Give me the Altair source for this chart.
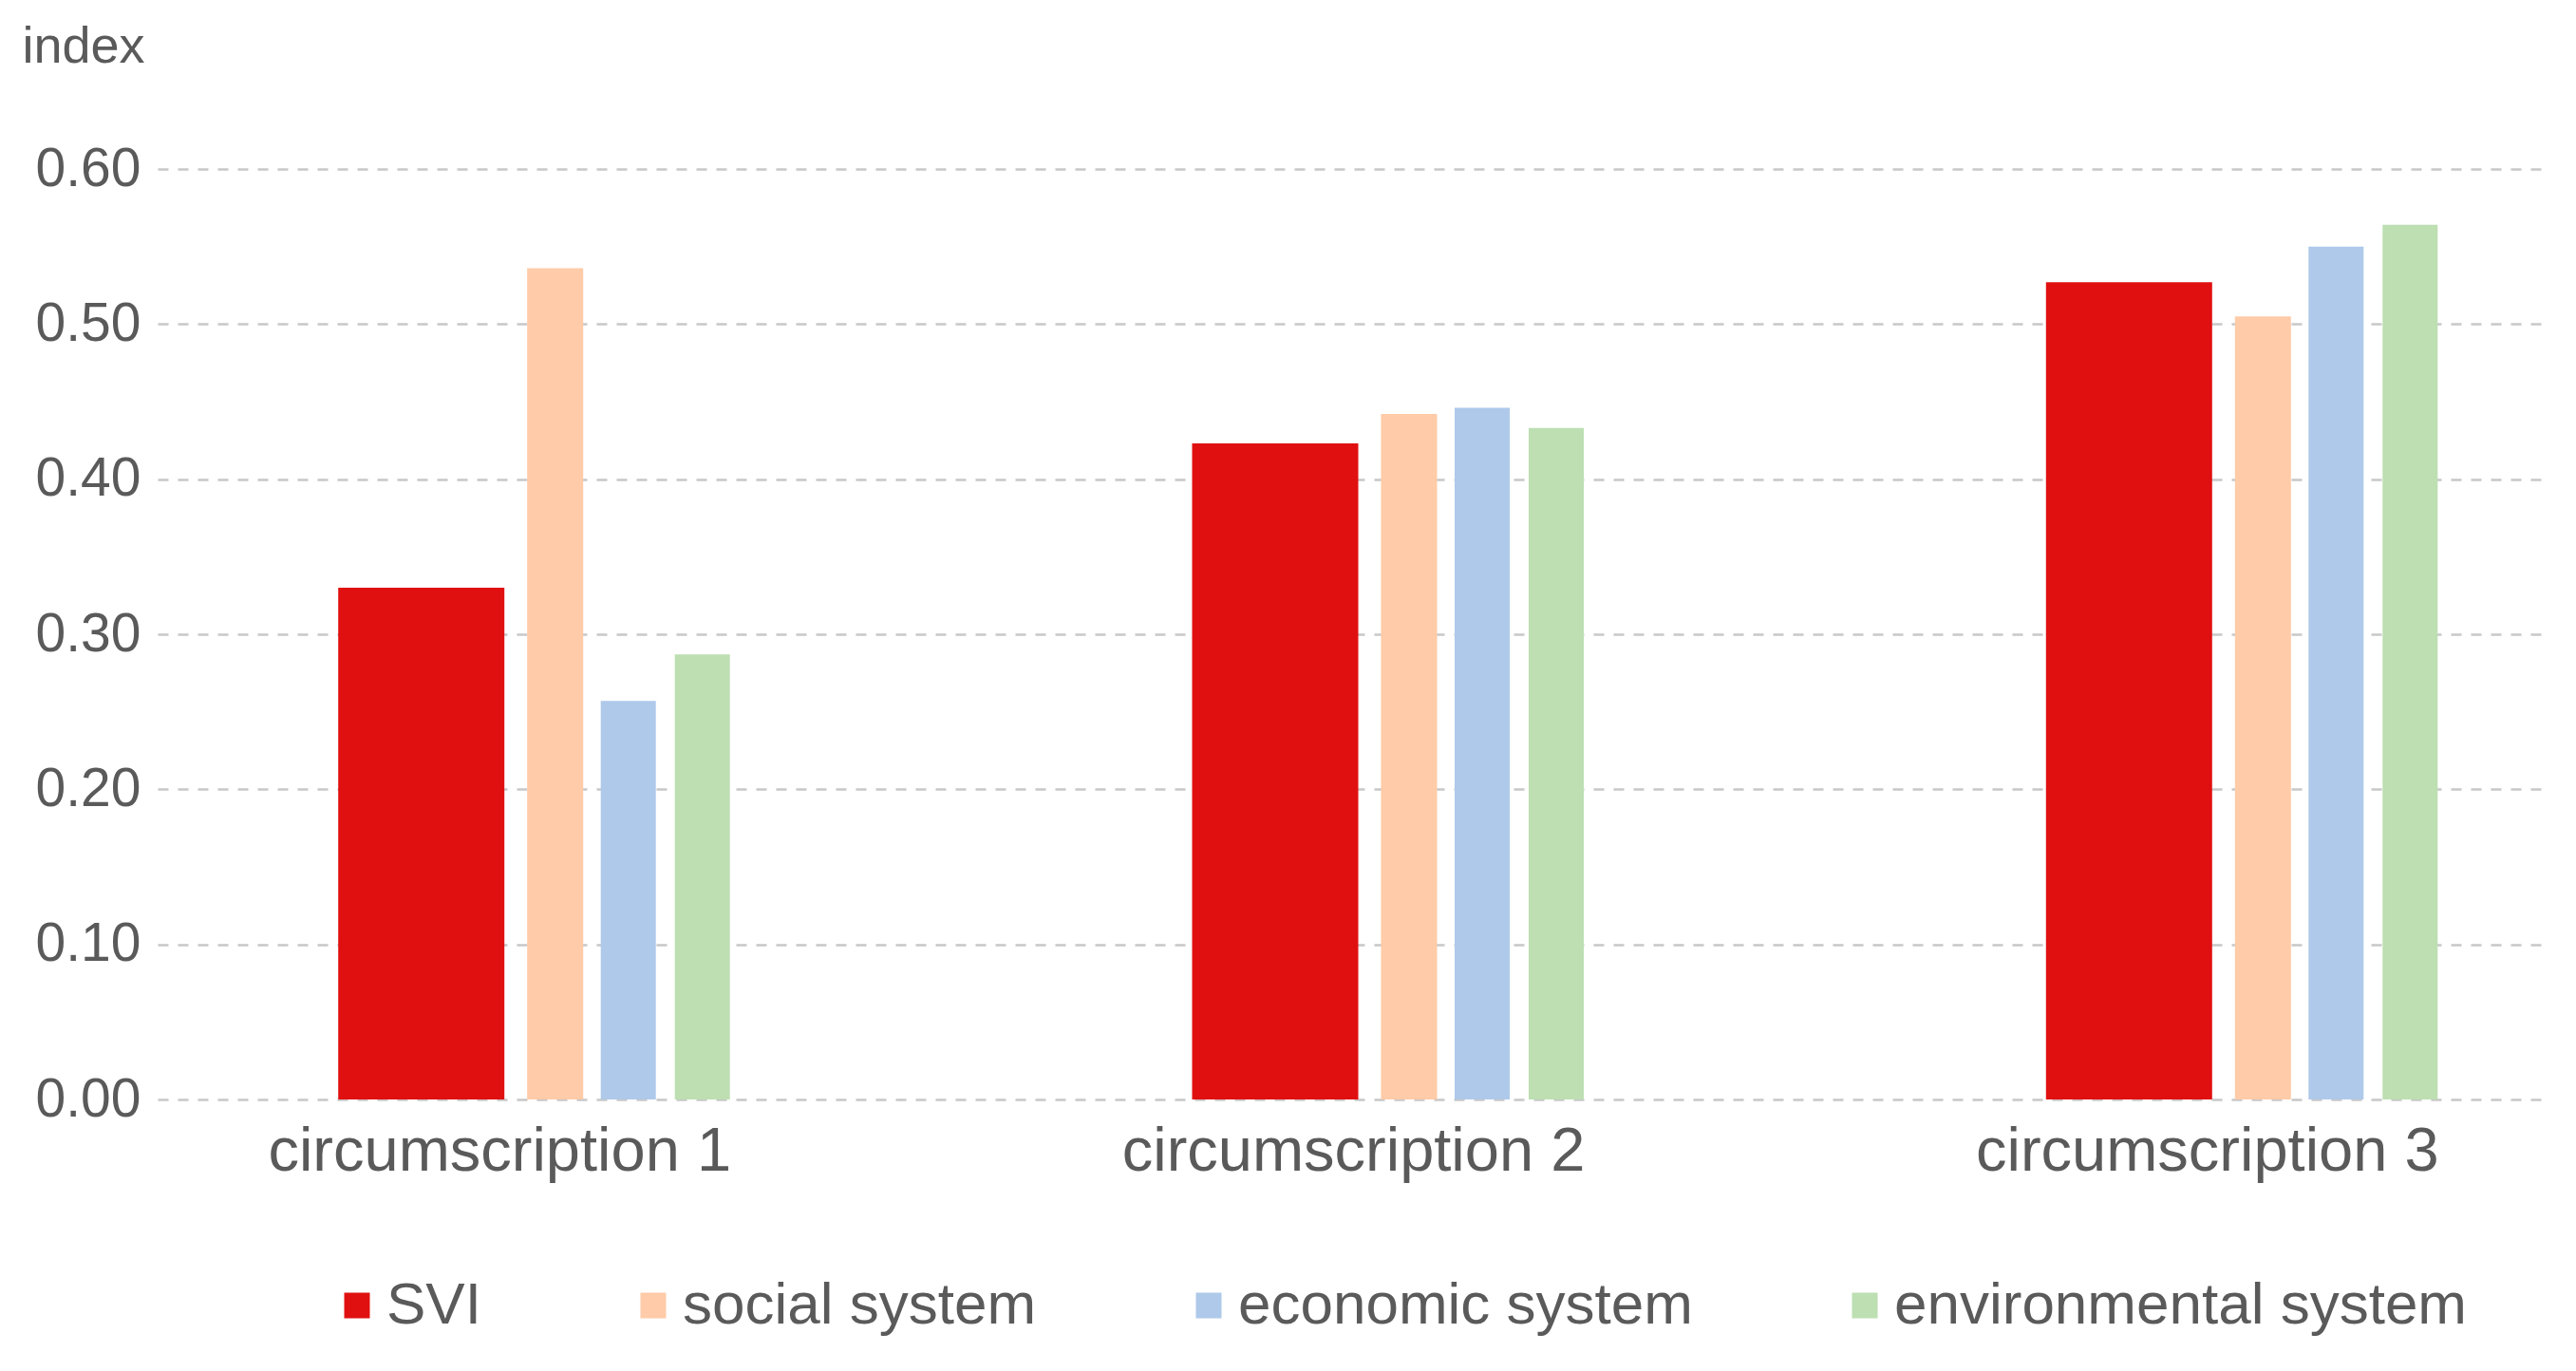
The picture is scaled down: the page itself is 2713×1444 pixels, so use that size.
import altair as alt
import pandas as pd

categories = ["circumscription 1", "circumscription 2", "circumscription 3"]
series = ["SVI", "social system", "economic system", "environmental system"]
svi = [0.330, 0.423, 0.527]
social = [0.536, 0.442, 0.505]
economic = [0.257, 0.446, 0.550]
environmental = [0.287, 0.433, 0.564]
colors = ["#E01010", "#FFCBA8", "#AEC9EA", "#BDDFB2"]
y_ticks = [0.0, 0.1, 0.2, 0.3, 0.4, 0.5, 0.6]

rows = []
for name, vals in zip(series, [svi, social, economic, environmental]):
    for c, v in zip(categories, vals):
        rows.append({"category": c, "series": name, "value": v})
df = pd.DataFrame(rows)

FONT = "Liberation Sans"
TXT = "#5a5a5a"

base = alt.Chart(df).encode(
    x=alt.X("category:N", sort=categories,
            scale=alt.Scale(type="point", padding=0.4),
            axis=alt.Axis(title=None, labelAngle=0, ticks=False, tickSize=0, domain=False,
                          labelFontSize=65, labelFont=FONT, labelColor=TXT, labelLimit=2000,
                          labelBaseline="alphabetic", labelPadding=74, grid=False)),
    y=alt.Y("value:Q",
            scale=alt.Scale(domain=[0, 0.6], nice=False, zero=True),
            axis=alt.Axis(title="index", values=y_ticks, format=".2f",
                          ticks=False, tickSize=0, domain=False,
                          labelFontSize=57, labelFont=FONT, labelColor=TXT, labelPadding=18,
                          grid=True, gridDash=[11, 10], gridColor="#c8c8c8", gridWidth=2.5,
                          titleAngle=0, titleX=-143, titleY=-113, titleAlign="left",
                          titleBaseline="alphabetic", titleFontSize=54, titleFont=FONT,
                          titleFontWeight="normal", titleColor=TXT)),
    color=alt.Color("series:N", sort=series,
                    scale=alt.Scale(domain=series, range=colors),
                    legend=alt.Legend(title=None, orient="none", legendX=179, legendY=1166,
                                      direction="horizontal", columns=4,
                                      symbolType="square", symbolSize=729, symbolStrokeWidth=0,
                                      symbolOpacity=1,
                                      labelFontSize=62, labelFont=FONT, labelColor=TXT,
                                      labelOffset=0, columnPadding=150, labelLimit=2000)),
)

specs = [
    ("SVI", 175, -82),
    ("social system", 59, 59),
    ("economic system", 58, 136),
    ("environmental system", 58, 214),
]
layers = []
for name, w, off in specs:
    layers.append(
        base.transform_filter(alt.datum.series == name)
        .mark_bar(width=w, xOffset=off, opacity=1)
    )

chart = alt.layer(*layers).properties(
    width=2518, height=980,
    background="white",
    autosize=alt.AutoSizeParams(type="none"),
    padding={"left": 158, "top": 170, "right": 20, "bottom": 268},
).configure_view(strokeWidth=0, stroke="transparent")

chart.save("out.html", embed_options={"renderer": "svg", "actions": False})
